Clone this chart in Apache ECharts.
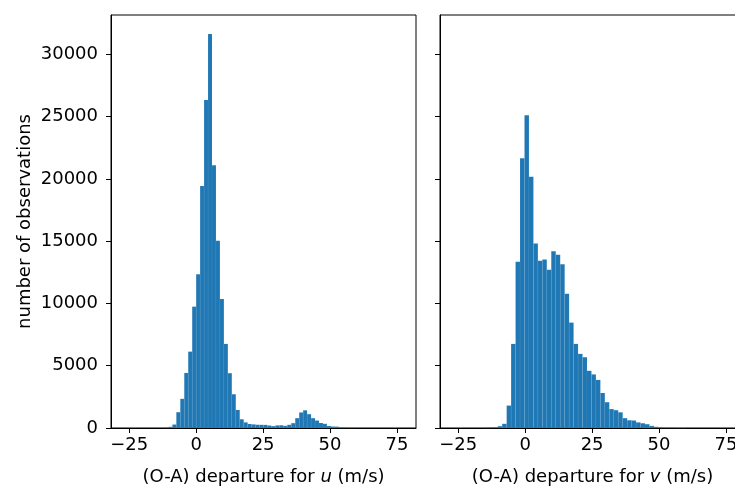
<!DOCTYPE html>
<html>
<head>
<meta charset="utf-8">
<script src="https://cdn.jsdelivr.net/npm/echarts@6/dist/echarts.min.js"></script>
<style>
  html, body { margin: 0; padding: 0; background: #fff; }
  #chart { width: 735px; height: 487px; }
</style>
</head>
<body>
<div id="chart"></div>
<script>
// Histogram of (O-A) departures for the u component: equal-width bins
const uBinStart = -11.84;
const uBinWidth = 1.48;
const uCounts = [
  40, 95, 280, 1270, 2340, 4420, 6130, 9740,
  12350, 19430, 26320, 31620, 21100, 15030, 10360, 6750,
  4400, 2710, 1450, 700, 450, 320, 290, 260,
  255, 250, 200, 150, 210, 220, 175, 255,
  390, 790, 1250, 1420, 1110, 790, 600, 400,
  335, 160, 120, 110, 65, 60, 40, 30
];

// Histogram of (O-A) departures for the v component
const vBinStart = -15.25;
const vBinWidth = 1.667;
const vCounts = [
  50, 60, 70, 145, 335, 1800, 6750, 13350, 21660,
  25110, 20160, 14800, 13430, 13520, 12700, 14180, 13910,
  13140, 10780, 8460, 6750, 5950, 5680, 4590, 4300,
  3860, 2810, 2070, 1520, 1430, 1260, 790, 620,
  600, 450, 380, 305, 170, 95, 65, 40,
  35, 30, 20, 15
];

// Axis ranges and tick positions
const xRange = [-31.8, 82.1];
const xTicks = [-25, 0, 25, 50, 75];
const yRange = [0, 33150];
const yTicks = [0, 5000, 10000, 15000, 20000, 25000, 30000];

const barColor = '#1f77b4';
const fontFamily = 'DejaVu Sans';
const fontSize = 18;

function toBins(start, width, counts) {
  return counts.map((c, i) => [start + i * width, start + (i + 1) * width, c]);
}

function renderBar(params, api) {
  const lo = api.coord([api.value(0), api.value(2)]);
  const hi = api.coord([api.value(1), 0]);
  return {
    type: 'rect',
    shape: { x: lo[0], y: lo[1], width: hi[0] - lo[0], height: hi[1] - lo[1] },
    style: { fill: barColor, stroke: 'rgba(255,255,255,0.12)', lineWidth: 0.4 }
  };
}

const xTickFmt = v => (v < 0 ? '\u2212' + Math.abs(v) : String(v));
const yTickFmt = v => String(v);

function makeXAxis(gridIndex, letter) {
  return {
    type: 'value',
    gridIndex: gridIndex,
    min: xRange[0],
    max: xRange[1],
    name: '(O-A) departure for {i|' + letter + '} (m/s)',
    nameLocation: 'middle',
    nameGap: 40,
    nameTextStyle: {
      fontFamily: fontFamily, fontSize: fontSize, color: '#000',
      rich: { i: { fontFamily: fontFamily, fontSize: fontSize, fontStyle: 'italic', color: '#000' } }
    },
    axisLine: { show: true, onZero: false, lineStyle: { color: '#000', width: 1 } },
    axisTick: { show: true, inside: false, length: 5, lineStyle: { color: '#000', width: 1 }, customValues: xTicks },
    axisLabel: { show: true, margin: 8, fontFamily: fontFamily, fontSize: fontSize, color: '#000', formatter: xTickFmt, customValues: xTicks },
    splitLine: { show: false }
  };
}

function makeYAxis(gridIndex, withLabels) {
  const ax = {
    type: 'value',
    gridIndex: gridIndex,
    min: yRange[0],
    max: yRange[1],
    axisLine: { show: true, onZero: false, lineStyle: { color: '#000', width: 1 } },
    axisTick: { show: true, inside: false, length: 5, lineStyle: { color: '#000', width: 1 }, customValues: yTicks },
    axisLabel: { show: withLabels, margin: 13, fontFamily: fontFamily, fontSize: fontSize, color: '#000', formatter: yTickFmt, customValues: yTicks },
    splitLine: { show: false }
  };
  if (withLabels) {
    ax.name = 'number of observations';
    ax.nameLocation = 'middle';
    ax.nameGap = 77;
    ax.nameTextStyle = { fontFamily: fontFamily, fontSize: fontSize, color: '#000' };
  }
  return ax;
}

const gridBase = {
  top: 15, width: 305, height: 413,
  show: true, borderColor: '#000', borderWidth: 1, backgroundColor: 'transparent',
  containLabel: false, outerBoundsMode: 'none'
};

const chart = echarts.init(document.getElementById('chart'), null, { renderer: 'canvas' });
chart.setOption({
  animation: false,
  backgroundColor: '#fff',
  grid: [
    Object.assign({ left: 111 }, gridBase),
    Object.assign({ left: 440 }, gridBase)
  ],
  xAxis: [makeXAxis(0, 'u'), makeXAxis(1, 'v')],
  yAxis: [makeYAxis(0, true), makeYAxis(1, false)],
  series: [
    {
      type: 'custom', xAxisIndex: 0, yAxisIndex: 0,
      renderItem: renderBar, encode: { x: [0, 1], y: 2 },
      data: toBins(uBinStart, uBinWidth, uCounts)
    },
    {
      type: 'custom', xAxisIndex: 1, yAxisIndex: 1,
      renderItem: renderBar, encode: { x: [0, 1], y: 2 },
      data: toBins(vBinStart, vBinWidth, vCounts)
    }
  ]
});
</script>
</body>
</html>
